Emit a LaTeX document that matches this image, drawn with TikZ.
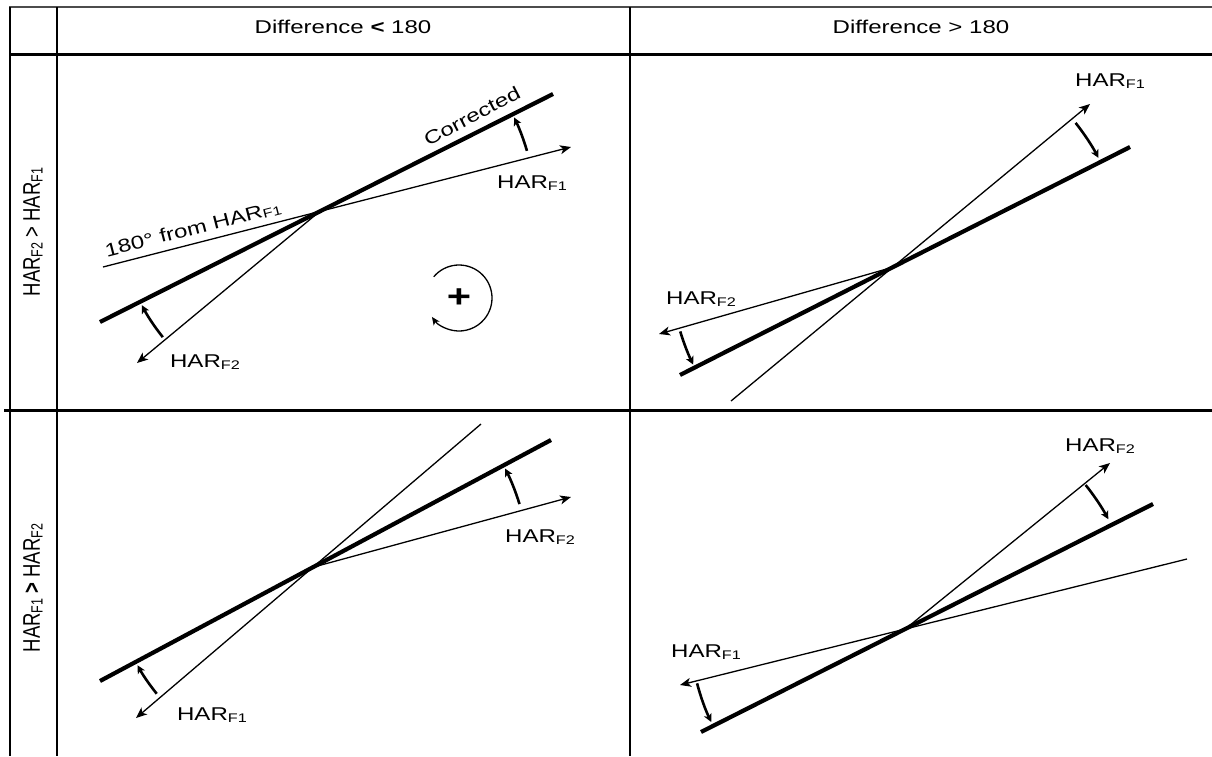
\documentclass[tikz,border=0pt]{standalone}
\usepackage{fontspec}
\setmainfont{Liberation Sans}[FakeStretch=1.3]
\newfontfamily\plainfont{Liberation Sans}
\usetikzlibrary{arrows.meta,calc}
\newcommand\hsub[1]{\raisebox{-2pt}{\fontsize{12.5}{12.5}\selectfont #1}}
\newcommand\har[1]{HAR\hsub{#1}}
\begin{document}
\begin{tikzpicture}[x=1pt,y=-1pt,
  font=\fontsize{18.5}{21}\selectfont,
  thickl/.style={line width=4.2pt},
  thinl/.style={line width=1.3pt},
  arr/.style={-{Stealth[length=11pt,width=9pt,inset=3pt]}},
  curv/.style={line width=2.6pt,-{Stealth[length=8pt,width=8pt,inset=2pt]}},
  gridv/.style={line width=2pt},
  gridh/.style={line width=3pt},
  lbl/.style={inner sep=0pt}]
\useasboundingbox (0,0) rectangle (1212,756);
\fill[white] (0,0) rectangle (1212,756);
% table grid
\draw[line width=1.5pt,black!70] (9,7) -- (1212,7);
\draw[gridv] (9.5,7) -- (9.5,756);
\draw[gridv] (57,7) -- (57,756);
\draw[gridv] (630,7) -- (630,756);
\draw[gridh] (9,54) -- (1212,54);
\draw[gridh] (4,410) -- (1212,410);
% headers
\node[lbl,anchor=base] (h1) at (343,33) {Difference \textbf{<} 180};
\node[lbl,anchor=base] (h2) at (921,33) {Difference > 180};
\node[lbl,rotate=90,yscale=1.3] (r1) at (33,232) {\plainfont HAR\hsub{F2} > HAR\hsub{F1}};
\node[lbl,rotate=90,yscale=1.3] (r2) at (33,588) {\plainfont HAR\hsub{F1} \textbf{>} HAR\hsub{F2}};
% ---------- top left
\coordinate (tla) at (100,322);
\coordinate (tlb) at (553,94);
\coordinate (tlc) at (103,267);
\coordinate (tld) at (571,147);
\coordinate (tlx) at (intersection of tla--tlb and tlc--tld);
\coordinate (tle) at (137,363);
\draw[thickl] (tla) -- (tlb);
\draw[thinl,arr] (tlc) -- (tld);
\draw[thinl,arr] (tlx) -- (tle);
\node[lbl,rotate=27.5] (corr) at (472,116) {Corrected};
\node[lbl,rotate=14.4] (from) at (193,229) {180° from \har{F1}};
\node[lbl] (tlf1) at (532,183) {\har{F1}};
\node[lbl] (tlf2) at (205,362) {\har{F2}};
\draw[curv] ($(tlx)+(-16.3:216)$) arc[start angle=-16.3,end angle=-25.8,radius=216];
\draw[curv] ($(tlx)+(-218.7:201)$) arc[start angle=-218.7,end angle=-207.8,radius=201];
\node[lbl,font=\fontsize{32}{32}\selectfont\bfseries] (plus) at (459,298) {+};
\draw[thinl,-{Stealth[length=8pt,width=7pt,inset=2pt]}] ($(plus)+(-140:33)$) arc[start angle=-140,end angle=145,radius=33];
% ---------- top right
\coordinate (tra) at (680,375);
\coordinate (trb) at (1130,147);
\coordinate (trc) at (731,401);
\coordinate (trd) at (1090,104);
\coordinate (trx) at (intersection of tra--trb and trc--trd);
\coordinate (tre) at (659,334);
\draw[thickl] (tra) -- (trb);
\draw[thinl,arr] (trc) -- (trd);
\draw[thinl,arr] (trx) -- (tre);
\node[lbl] (trf1) at (1110,81) {\har{F1}};
\node[lbl] (trf2) at (701,299) {\har{F2}};
\draw[curv] ($(trx)+(-38.3:233)$) arc[start angle=-38.3,end angle=-28.0,radius=233];
\draw[curv] ($(trx)+(-196.8:222)$) arc[start angle=-196.8,end angle=-206,radius=222];
% ---------- bottom left
\coordinate (bla) at (100,681);
\coordinate (blb) at (551,440);
\coordinate (blc) at (481,424);
\coordinate (bld) at (136,718);
\coordinate (blx) at (intersection of bla--blb and blc--bld);
\coordinate (ble) at (571,497);
\draw[thickl] (bla) -- (blb);
\draw[thinl,arr] (blc) -- (bld);
\draw[thinl,arr] (blx) -- (ble);
\node[lbl] (blf2) at (540,537) {\har{F2}};
\node[lbl] (blf1) at (212,715) {\har{F1}};
\draw[curv] ($(blx)+(-17:216)$) arc[start angle=-17,end angle=-27.2,radius=216];
\draw[curv] ($(blx)+(-219:201)$) arc[start angle=-219,end angle=-209.2,radius=201];
% ---------- bottom right
\coordinate (bra) at (701,732);
\coordinate (brb) at (1153,504);
\coordinate (brc) at (1187,559);
\coordinate (brd) at (680,685);
\coordinate (brx) at (intersection of bra--brb and brc--brd);
\coordinate (bre) at (1110,463);
\draw[thickl] (bra) -- (brb);
\draw[thinl,arr] (brc) -- (brd);
\draw[thinl,arr] (brx) -- (bre);
\node[lbl] (brf2) at (1100,446) {\har{F2}};
\node[lbl] (brf1) at (706,652) {\har{F1}};
\draw[curv] ($(brx)+(-38.6:231)$) arc[start angle=-38.6,end angle=-28.4,radius=231];
\draw[curv] ($(brx)+(-194.6:215)$) arc[start angle=-194.6,end angle=-205.6,radius=215];
\end{tikzpicture}
\end{document}
